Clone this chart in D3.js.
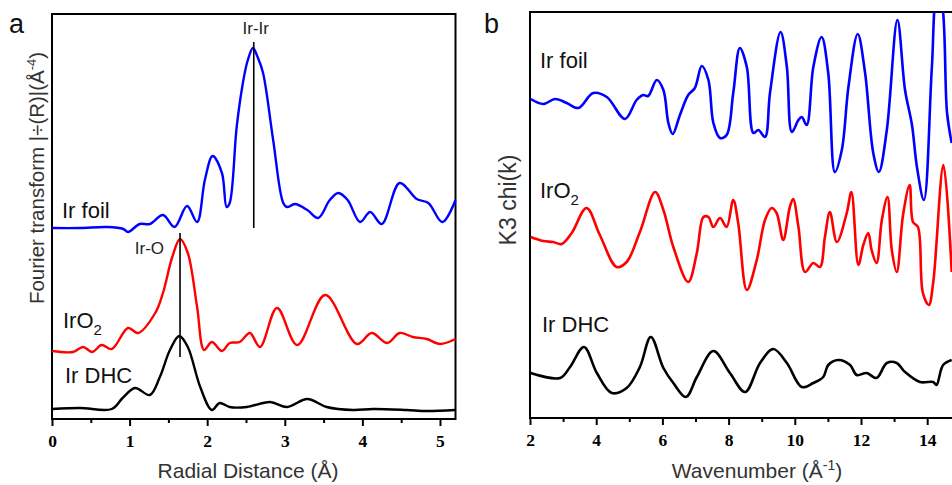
<!DOCTYPE html>
<html><head><meta charset="utf-8">
<script src="https://cdn.jsdelivr.net/npm/d3@7"></script>
<style>body{margin:0;background:#fff}svg{display:block}</style>
</head><body>
<svg id="c" width="952" height="485"></svg>
<script>
// ---------- Panel a: Fourier transform |chi(R)| (offset curves, a.u.) ----------
const ftFoil = [[0,1.91],[0.36,1.91],[0.71,1.92],[0.92,1.90],[0.98,1.87],[1.13,1.95],[1.26,1.95],[1.43,2.04],[1.58,1.92],[1.74,2.13],[1.87,1.97],[1.97,2.39],[2.07,2.63],[2.19,2.46],[2.25,2.12],[2.29,2.16],[2.38,2.92],[2.46,3.36],[2.52,3.58],[2.59,3.71],[2.65,3.62],[2.72,3.46],[2.85,2.79],[2.98,2.16],[3.03,2.12],[3.13,2.15],[3.29,2.09],[3.43,2.01],[3.58,2.19],[3.69,2.26],[3.81,2.19],[3.97,1.97],[4.10,2.07],[4.25,1.95],[4.48,2.36],[4.70,2.20],[4.85,2.16],[5.03,1.97],[5.2,2.19]];
const ftIrO2 = [[0,0.68],[0.27,0.67],[0.40,0.72],[0.52,0.67],[0.64,0.74],[0.77,0.70],[0.98,0.91],[1.11,0.86],[1.33,1.06],[1.43,1.26],[1.55,1.62],[1.65,1.80],[1.75,1.66],[1.87,1.12],[1.96,0.69],[2.06,0.77],[2.19,0.68],[2.29,0.76],[2.42,0.77],[2.55,0.86],[2.68,0.72],[2.90,1.11],[3.16,0.74],[3.52,1.24],[3.93,0.75],[4.12,0.86],[4.32,0.76],[4.48,0.86],[4.65,0.82],[4.83,0.80],[5.00,0.75],[5.2,0.80]];
const ftDHC = [[0,0.10],[0.36,0.11],[0.77,0.10],[0.91,0.21],[1.07,0.31],[1.26,0.24],[1.39,0.42],[1.52,0.69],[1.64,0.83],[1.75,0.72],[1.91,0.32],[2.06,0.09],[2.16,0.16],[2.29,0.12],[2.51,0.12],[2.81,0.17],[3.03,0.12],[3.29,0.20],[3.54,0.12],[3.88,0.09],[4.14,0.10],[4.57,0.09],[4.83,0.08],[5.2,0.09]];
const ftTicks = [0,1,2,3,4,5];
const ftMinor = [0.5,1.5,2.5,3.5,4.5];
const ftMarks = [{label:"Ir-Ir", r:2.6, y0:1.91, y1:3.77}, {label:"Ir-O", r:1.65, y0:0.62, y1:1.86}];

// ---------- Panel b: k^3 chi(k) (offset curves, a.u.) ----------
const kFoil = [[2.02,3.19],[2.40,3.14],[2.76,3.19],[3.11,3.15],[3.46,3.10],[3.91,3.25],[4.32,3.21],[4.87,2.99],[5.22,3.18],[5.42,3.23],[5.57,3.22],[5.83,3.38],[6.03,3.28],[6.18,2.95],[6.31,2.84],[6.53,3.03],[6.78,3.23],[6.98,3.30],[7.19,3.52],[7.39,3.38],[7.54,2.95],[7.74,2.80],[7.94,2.83],[8.14,3.25],[8.34,3.70],[8.55,3.51],[8.75,2.85],[8.90,2.88],[9.10,2.81],[9.25,3.25],[9.57,3.86],[9.76,3.51],[9.91,2.86],[10.11,2.98],[10.21,3.01],[10.36,2.93],[10.56,3.51],[10.81,3.81],[11.01,3.45],[11.21,2.46],[11.42,2.68],[11.62,3.31],[11.90,3.84],[12.12,3.46],[12.37,2.65],[12.54,2.46],[12.78,2.88],[13.10,3.98],[13.33,3.28],[13.54,2.93],[13.69,2.51],[13.90,2.18],[14.14,3.50],[14.30,4.25],[14.42,4.20],[14.60,3.05],[14.74,2.75]];
const kIrO2 = [[2.02,1.81],[2.40,1.77],[2.70,1.76],[2.96,1.74],[3.26,1.85],[3.71,2.10],[4.11,1.83],[4.62,1.51],[4.92,1.56],[5.32,1.86],[5.78,2.26],[6.03,2.08],[6.33,1.71],[6.78,1.36],[7.04,1.65],[7.24,2.01],[7.39,2.01],[7.54,1.91],[7.74,2.00],[7.94,1.91],[8.14,2.18],[8.29,1.95],[8.55,1.28],[8.85,1.58],[9.10,1.98],[9.30,2.10],[9.45,2.05],[9.65,1.78],[9.85,2.11],[9.95,2.19],[10.11,1.91],[10.31,1.46],[10.56,1.55],[10.76,1.51],[10.91,1.81],[11.06,2.06],[11.27,1.76],[11.57,2.05],[11.71,2.26],[11.92,1.53],[12.07,1.73],[12.22,1.85],[12.32,1.68],[12.47,1.55],[12.63,1.98],[12.80,2.21],[12.93,1.68],[13.08,1.46],[13.27,2.03],[13.47,2.33],[13.57,1.96],[13.72,1.91],[13.87,1.25],[14.05,1.13],[14.18,1.35],[14.49,2.53],[14.74,1.46]];
const kDHC = [[2.02,0.45],[2.91,0.40],[3.21,0.51],[3.63,0.71],[4.02,0.45],[4.47,0.25],[4.92,0.30],[5.32,0.51],[5.65,0.81],[6.03,0.50],[6.33,0.35],[6.71,0.21],[7.04,0.41],[7.54,0.67],[8.04,0.45],[8.50,0.26],[8.95,0.55],[9.35,0.69],[9.76,0.55],[10.21,0.31],[10.56,0.35],[10.86,0.41],[11.01,0.53],[11.31,0.58],[11.67,0.53],[11.87,0.43],[12.17,0.45],[12.47,0.40],[12.78,0.55],[13.08,0.55],[13.33,0.46],[13.78,0.36],[14.18,0.36],[14.28,0.33],[14.48,0.53],[14.74,0.58]];
const kTicks = [2,4,6,8,10,12,14];
const kMinor = [3,5,7,9,11,13,15];

const BLUE = "#0000ff", RED = "#ff0000", BLACK = "#000000";
const svg = d3.select("#c");
const sans = "'Liberation Sans', Arial, sans-serif";
const serif = "'Liberation Serif', 'Times New Roman', serif";

// ======== Panel a ========
const ax = d3.scaleLinear().domain([0, 5.2]).range([52, 455.5]);
const ay = d3.scaleLinear().domain([0, 4.05]).range([419, 14]);
const gA = svg.append("g");
gA.append("rect").attr("x", 52).attr("y", 14).attr("width", 403.5).attr("height", 405)
  .attr("fill", "none").attr("stroke", "#000").attr("stroke-width", 2);
const axA = gA.append("g").attr("transform", "translate(0,419)")
  .call(d3.axisBottom(ax).tickValues(ftTicks).tickSize(7).tickFormat(d3.format("d")));
axA.select(".domain").remove();
axA.selectAll("line").attr("stroke-width", 2);
axA.selectAll("text").attr("font-family", serif).attr("font-weight", "bold").attr("font-size", 17.5).attr("fill", "#000").attr("dy", "1.0em");
gA.append("g").attr("transform", "translate(0,419)")
  .call(d3.axisBottom(ax).tickValues(ftMinor).tickSize(4).tickFormat(""))
  .call(g => { g.select(".domain").remove(); g.selectAll("line").attr("stroke-width", 2); });

const lineA = d3.line().x(d => ax(d[0])).y(d => ay(d[1])).curve(d3.curveCatmullRom.alpha(0.5));
[[ftFoil, BLUE], [ftIrO2, RED], [ftDHC, BLACK]].forEach(([d, c]) => {
  gA.append("path").datum(d).attr("d", lineA).attr("fill", "none").attr("stroke", c).attr("stroke-width", 2.4).attr("stroke-linejoin", "round");
});
ftMarks.forEach(m => {
  gA.append("line").attr("x1", ax(m.r)).attr("x2", ax(m.r)).attr("y1", ay(m.y0)).attr("y2", ay(m.y1))
    .attr("stroke", "#000").attr("stroke-width", 1.6);
});
gA.append("text").attr("x", ax(ftMarks[0].r) + 2).attr("y", ay(ftMarks[0].y1) - 8).attr("text-anchor", "middle")
  .attr("font-family", sans).attr("font-size", 17).attr("fill", "#222").text(ftMarks[0].label);
gA.append("text").attr("x", ax(ftMarks[1].r) - 16).attr("y", ay(ftMarks[1].y1) + 21).attr("text-anchor", "end")
  .attr("font-family", sans).attr("font-size", 17).attr("fill", "#222").text(ftMarks[1].label);

function label(g, x, y, main, sub, size) {
  const t = g.append("text").attr("x", x).attr("y", y).attr("font-family", sans).attr("font-size", size).attr("fill", "#111");
  t.append("tspan").text(main);
  if (sub) { t.append("tspan").attr("dy", 7).attr("font-size", size * 0.68).text(sub); }
  return t;
}
label(gA, 62, 218, "Ir foil", null, 22);
label(gA, 63, 328, "IrO", "2", 22);
label(gA, 65, 383, "Ir DHC", null, 22);

const ytA = gA.append("text").attr("transform", "translate(44,178) rotate(-90)").attr("text-anchor", "middle")
  .attr("font-family", sans).attr("font-size", 20.5).attr("fill", "#333");
ytA.append("tspan").text("Fourier transform |÷(R)|(Å");
ytA.append("tspan").attr("dy", -8).attr("font-size", 13).text("-4");
ytA.append("tspan").attr("dy", 8).text(")");

gA.append("text").attr("x", 248).attr("y", 478).attr("text-anchor", "middle")
  .attr("font-family", sans).attr("font-size", 21).attr("fill", "#333").text("Radial Distance (Å)");
svg.append("text").attr("x", 9).attr("y", 33).attr("font-family", sans).attr("font-size", 27).attr("fill", "#111").text("a");

// ======== Panel b ========
const bx = d3.scaleLinear().domain([2, 16]).range([530, 993.4]);
const by = d3.scaleLinear().domain([0, 4.06]).range([418, 12]);
const gB = svg.append("g");
gB.append("defs").append("clipPath").attr("id", "clipB").append("rect")
  .attr("x", 530).attr("y", 12).attr("width", 440).attr("height", 406);
gB.append("path").attr("d", "M1000,12 H530 V418 H1000").attr("fill", "none").attr("stroke", "#000").attr("stroke-width", 2);
const axB = gB.append("g").attr("transform", "translate(0,418)")
  .call(d3.axisBottom(bx).tickValues(kTicks).tickSize(7).tickFormat(d3.format("d")));
axB.select(".domain").remove();
axB.selectAll("line").attr("stroke-width", 2);
axB.selectAll("text").attr("font-family", serif).attr("font-weight", "bold").attr("font-size", 17.5).attr("fill", "#000").attr("dy", "1.0em");
gB.append("g").attr("transform", "translate(0,418)")
  .call(d3.axisBottom(bx).tickValues(kMinor).tickSize(4).tickFormat(""))
  .call(g => { g.select(".domain").remove(); g.selectAll("line").attr("stroke-width", 2); });

const lineB = d3.line().x(d => bx(d[0])).y(d => by(d[1])).curve(d3.curveCatmullRom.alpha(0.5));
const curvesB = gB.append("g").attr("clip-path", "url(#clipB)");
[[kFoil, BLUE], [kIrO2, RED], [kDHC, BLACK]].forEach(([d, c]) => {
  curvesB.append("path").datum(d).attr("d", lineB).attr("fill", "none").attr("stroke", c).attr("stroke-width", 2.6).attr("stroke-linejoin", "round");
});
label(gB, 540, 68, "Ir foil", null, 22);
label(gB, 540, 198, "IrO", "2", 22);
label(gB, 542, 332, "Ir DHC", null, 22);

gB.append("text").attr("transform", "translate(516,200) rotate(-90)").attr("text-anchor", "middle")
  .attr("font-family", sans).attr("font-size", 23).attr("fill", "#333").text("K3 chi(k)");
const xtB = gB.append("text").attr("x", 757).attr("y", 478).attr("text-anchor", "middle")
  .attr("font-family", sans).attr("font-size", 21).attr("fill", "#333");
xtB.append("tspan").text("Wavenumber (Å");
xtB.append("tspan").attr("dy", -8).attr("font-size", 14).text("-1");
xtB.append("tspan").attr("dy", 8).text(")");
svg.append("text").attr("x", 484).attr("y", 33).attr("font-family", sans).attr("font-size", 27).attr("fill", "#111").text("b");
</script>
</body></html>
